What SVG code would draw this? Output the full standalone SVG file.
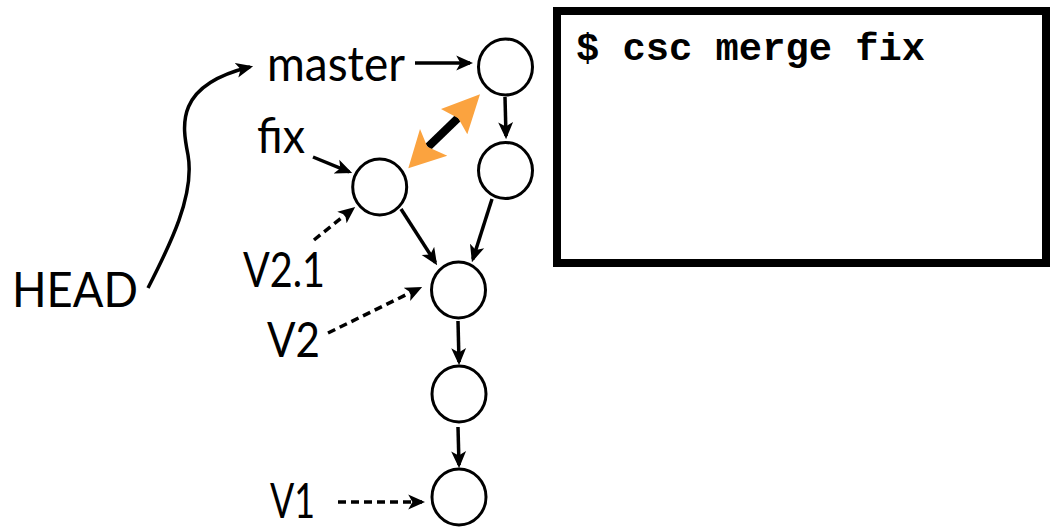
<svg xmlns="http://www.w3.org/2000/svg" width="1053" height="529" viewBox="0 0 1053 529">
<style>
.node{fill:#fff;stroke:#000;stroke-width:3}
.lbl{font-family:Lato,"Open Sans","Liberation Sans",sans-serif;font-size:48px;fill:#000}
.edge{fill:none;stroke:#000;stroke-width:3.5;marker-end:url(#ah)}
.dash{stroke-dasharray:8 5}
.orange{fill:#FBA33F}
.term{font-family:"Liberation Mono","Courier New",monospace;font-weight:bold;font-size:39px;fill:#000}
</style>
<defs>
<marker id="ah" viewBox="0 0 16 16" markerUnits="userSpaceOnUse" markerWidth="17" markerHeight="17" refX="13" refY="8" orient="auto">
<path d="M0,1 L16,8 L0,15 L4,8 Z" fill="#000"/>
</marker>
</defs>
<rect width="1053" height="529" fill="#fff"/>
<g id="terminal">
<rect x="557" y="11" width="489" height="252" fill="#fff" stroke="#000" stroke-width="8"/>
<text class="term" x="576" y="60" textLength="349" lengthAdjust="spacingAndGlyphs">$ csc merge fix</text>
</g>
<g id="connectors">
<path class="edge" d="M148,288 C170,245 195,195 188,155 C182,125 175,85 250,67"/>
<line class="edge" x1="415" y1="63" x2="470" y2="63"/>
<line class="edge" x1="313" y1="157" x2="349.2" y2="171.9"/>
<line class="edge" x1="505" y1="97" x2="506" y2="136"/>
<line class="edge" x1="492" y1="199" x2="472.9" y2="259.1"/>
<line class="edge" x1="401" y1="209" x2="435.4" y2="262.5"/>
<line class="edge" x1="458" y1="321" x2="459" y2="362"/>
<line class="edge" x1="458" y1="427" x2="459" y2="465"/>
<line class="edge dash" x1="314" y1="240" x2="352.7" y2="208.9"/>
<line class="edge dash" x1="328" y1="333" x2="419.3" y2="288.3"/>
<line class="edge dash" x1="338" y1="502" x2="422" y2="502"/>
</g>
<g id="merge-arrow">
<line x1="428" y1="147" x2="458" y2="118" stroke="#000" stroke-width="8"/>
<polygon class="orange" points="480,94.3 441,109 458.3,118.3 467.3,134.3"/>
<polygon class="orange" points="408.3,168.3 420,129 427.3,146.7 447.3,155.7"/>
</g>
<g id="n-master"><ellipse class="node" cx="505.5" cy="67" rx="27" ry="28"/></g>
<g id="n-c2"><ellipse class="node" cx="505.5" cy="170.5" rx="27" ry="28"/></g>
<g id="n-fix"><ellipse class="node" cx="379.7" cy="187" rx="27" ry="28"/></g>
<g id="n-v2"><ellipse class="node" cx="458.5" cy="290" rx="27" ry="28"/></g>
<g id="n-c4"><ellipse class="node" cx="459" cy="394" rx="27" ry="28"/></g>
<g id="n-v1"><ellipse class="node" cx="459" cy="497" rx="27" ry="28"/></g>
<g id="l-master"><text class="lbl" x="267" y="81" textLength="138" lengthAdjust="spacingAndGlyphs">master</text></g>
<g id="l-fix"><text class="lbl" x="257" y="153" textLength="48" lengthAdjust="spacingAndGlyphs">fix</text></g>
<g id="l-head"><text class="lbl" x="12" y="307" textLength="126" lengthAdjust="spacingAndGlyphs">HEAD</text></g>
<g id="l-v21"><text class="lbl" x="243" y="287" textLength="82" lengthAdjust="spacingAndGlyphs">V2.1</text></g>
<g id="l-v2"><text class="lbl" x="267" y="357" textLength="53" lengthAdjust="spacingAndGlyphs">V2</text></g>
<g id="l-v1"><text class="lbl" x="270" y="518" textLength="45" lengthAdjust="spacingAndGlyphs">V1</text></g>
</svg>
